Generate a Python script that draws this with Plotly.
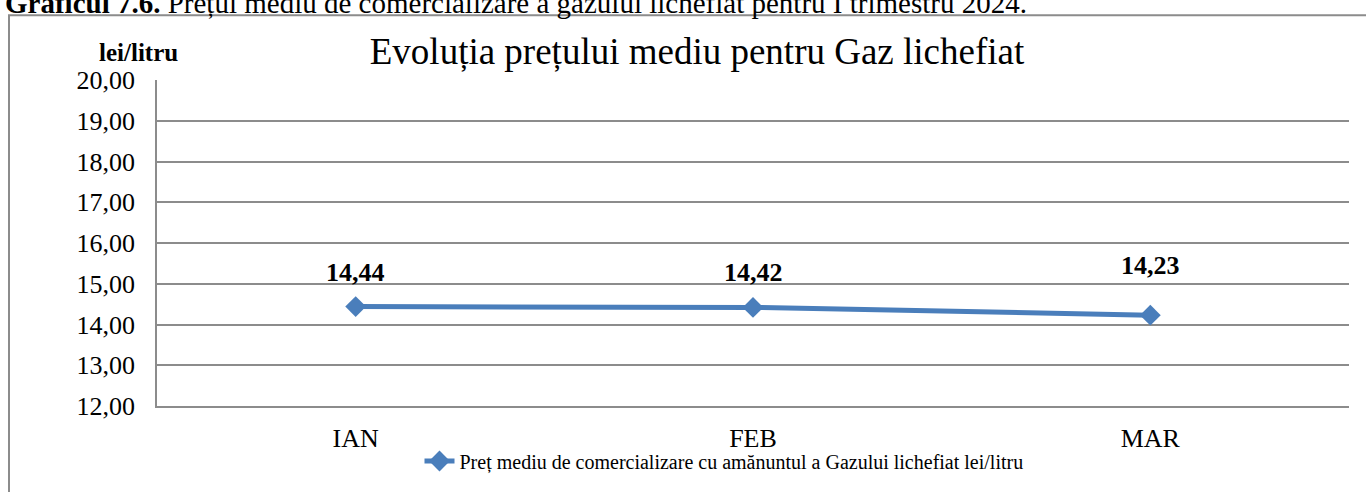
import plotly.graph_objects as go

months = ["IAN", "FEB", "MAR"]
prices = [14.44, 14.42, 14.23]
price_labels = ["14,44", "14,42", "14,23"]
label_shift = [34, 35, 50]
series_name = "Preț mediu de comercializare cu amănuntul a Gazului lichefiat lei/litru"
chart_title = "Evoluția prețului mediu pentru Gaz lichefiat"
caption_bold = "Graficul 7.6."
caption_rest = " Prețul mediu de comercializare a gazului lichefiat pentru I trimestru 2024."
y_unit = "lei/litru"

FONT = "Liberation Serif"
GRID = "#8c8c8c"
BLUE = "#4a7ebb"

W, H = 1366, 492
L, R, T, B = 157, 17, 80, 80
PW = W - L - R
PH = H - T - B


def px(x):
    return (x - L) / PW


def py(y):
    return (H - B - y) / PH


fig = go.Figure()
fig.add_trace(go.Scatter(
    x=list(range(len(months))), y=prices, mode="lines+markers",
    name=series_name,
    line=dict(color=BLUE, width=5),
    marker=dict(symbol="diamond", size=16, color=BLUE),
))

for i, (v, t, s) in enumerate(zip(prices, price_labels, label_shift)):
    fig.add_annotation(x=i, y=v, text=t, showarrow=False, yshift=s,
                       font=dict(family=FONT, size=26, color="black", weight="bold"))

fig.add_annotation(xref="paper", yref="paper", x=px(138), y=py(52), text="<b>" + y_unit + "</b>",
                   showarrow=False, xanchor="center", yanchor="middle",
                   font=dict(family=FONT, size=25, color="black"))

fig.add_annotation(xref="paper", yref="paper", x=px(3), y=py(2),
                   text="<b>" + caption_bold + "</b>" + caption_rest,
                   showarrow=False, xanchor="left", yanchor="middle",
                   font=dict(family=FONT, size=29, color="black"))

fig.add_shape(type="rect", xref="paper", yref="paper",
              x0=px(9), x1=px(1390), y0=py(520), y1=py(14),
              line=dict(color=GRID, width=2), fillcolor="rgba(0,0,0,0)", layer="below")

fig.update_layout(
    width=W, height=H,
    margin=dict(l=L, r=R, t=T, b=B),
    paper_bgcolor="white", plot_bgcolor="white",
    separators=", ",
    title=dict(text=chart_title, x=697 / W, xanchor="center", y=1 - 51 / H, yanchor="middle",
               font=dict(family=FONT, size=37, color="black")),
    showlegend=True,
    legend=dict(orientation="h", x=px(724), xanchor="center", y=py(468), yanchor="middle",
                font=dict(family=FONT, size=20, color="black"), bgcolor="rgba(0,0,0,0)"),
    xaxis=dict(range=[-0.5, len(months) - 0.5], tickmode="array",
               tickvals=list(range(len(months))), ticktext=months,
               showgrid=False, zeroline=False, showline=True, linecolor=GRID, linewidth=1.5,
               ticks="", ticklabelstandoff=8,
               tickfont=dict(family=FONT, size=26, color="black")),
    yaxis=dict(range=[12, 20], dtick=1, tickformat=".2f",
               showgrid=True, gridcolor=GRID, gridwidth=1.5, zeroline=False,
               showline=True, linecolor=GRID, linewidth=1.5, ticks="", ticklabelstandoff=15,
               tickfont=dict(family=FONT, size=26, color="black")),
)

fig.write_html("out.html", config={"displayModeBar": False},
               post_script="document.body.style.margin='0';")
